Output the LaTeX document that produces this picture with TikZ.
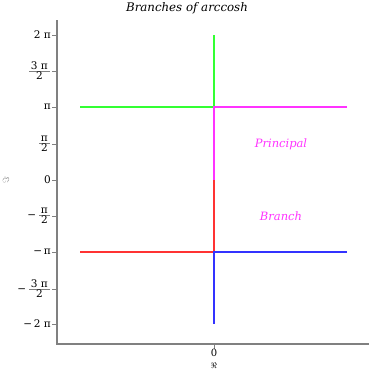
\documentclass[tikz,border=0pt]{standalone}
\usepackage{fontspec}
\setmainfont{DejaVu Serif}
\newcommand\gfrac[2]{{\color{axisgray}$\frac{\mbox{\color{black}\,#1\,}}{\mbox{\color{black}#2}}$}}
\begin{document}
\begin{tikzpicture}[x=1pt,y=-1pt,
  axis/.style={draw=axisgray,line width=1.5pt},
  tick/.style={draw=axisgray,line width=1pt},
  ticklab/.style={anchor=east,inner sep=0pt,font=\fontsize{10.5}{11}\selectfont},
  branch/.style={line width=1.4pt},
  lab/.style={font=\fontsize{11.5}{12}\selectfont\itshape,text=pmag,inner sep=0pt}]
\definecolor{axisgray}{HTML}{808080}
\definecolor{pgreen}{HTML}{33FF33}
\definecolor{pmag}{HTML}{FF33FF}
\definecolor{pred}{HTML}{FF3333}
\definecolor{pblue}{HTML}{3333FF}
\useasboundingbox (0,0) rectangle (370,370);
% axes
\coordinate (top) at (57,20);
\coordinate (origin) at (57,344);
\coordinate (right) at (369,344);
\draw[axis] (top) -- (origin) -- (right);
% y ticks
\foreach \y/\n in {35/a,71/b,107/c,144/d,180/e,216/f,252/g,289/h,324/i}{
  \coordinate (t\n) at (57,\y);
  \coordinate (s\n) at (52,\y);
  \draw[tick] (t\n) -- (s\n);
}
\node[ticklab] (la) at (51,35) {2 π};
\node[ticklab] (lb) at (51,71) {\gfrac{3 π}{2}};
\node[ticklab] (lc) at (51,107) {π};
\node[ticklab] (ld) at (51,144) {\gfrac{π}{2}};
\node[ticklab] (le) at (51,180) {0};
\node[ticklab] (lf) at (51,216) {−\,\gfrac{π}{2}};
\node[ticklab] (lg) at (51,252) {−\,π};
\node[ticklab] (lh) at (51,289) {−\,\gfrac{3 π}{2}};
\node[ticklab] (li) at (51,324) {−\,2 π};
% x tick
\coordinate (xt) at (214,344);
\coordinate (xs) at (214,349);
\draw[tick] (xt) -- (xs);
\node[inner sep=0pt,font=\fontsize{10}{11}\selectfont] (x0) at (214,353) {0};
\node[inner sep=0pt,font=\fontsize{8.5}{9}\selectfont] (xl) at (214,365.5) {$\Re$};
\node[inner sep=0pt,rotate=90,text=axisgray,font=\fontsize{9}{10}\selectfont] (yl) at (6,180) {$\Im$};
% title
\node[inner sep=0pt,font=\fontsize{11.8}{12}\selectfont\itshape] (title) at (187,8) {Branches of arccosh};
% branches
\coordinate (L1) at (80,107); \coordinate (C1) at (214,107); \coordinate (R1) at (347,107);
\coordinate (T) at (214,35); \coordinate (M) at (214,180);
\coordinate (L2) at (80,252); \coordinate (C2) at (214,252); \coordinate (R2) at (347,252);
\coordinate (B) at (214,324);
\draw[branch,pgreen] (L1) -- (C1) -- (T);
\draw[branch,pmag] (R1) -- (C1) -- (M);
\draw[branch,pred] (M) -- (C2) -- (L2);
\draw[branch,pblue] (R2) -- (C2) -- (B);
\node[lab] (p) at (281,144) {Principal};
\node[lab] (b) at (281,216) {Branch};
\end{tikzpicture}
\end{document}
